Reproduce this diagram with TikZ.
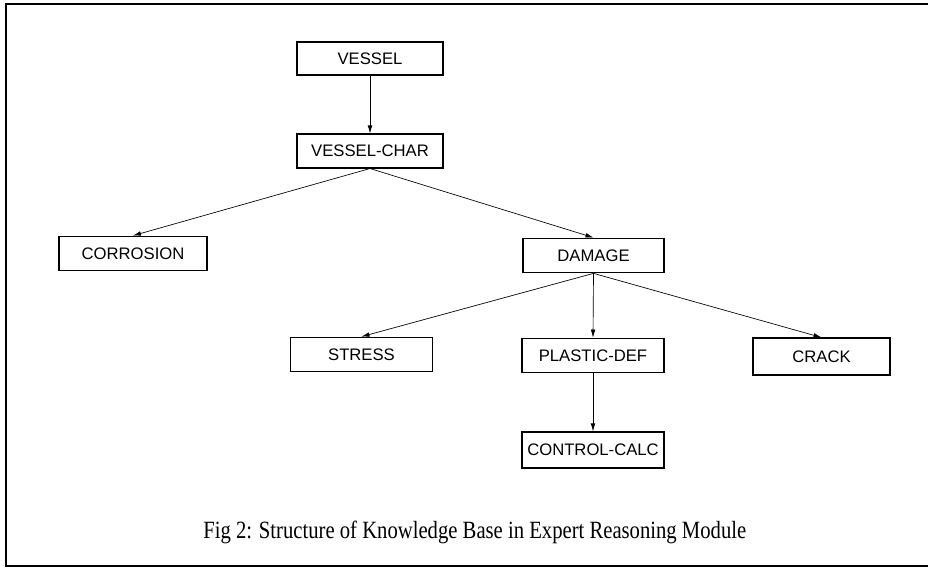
\documentclass[tikz,border=0pt]{standalone}
\usepackage{fontspec}
\setmainfont{Liberation Serif}
\setsansfont{Liberation Sans}
\usetikzlibrary{arrows.meta}
\begin{document}
\begin{tikzpicture}[x=0.75pt,y=0.75pt,yscale=-1,xscale=1,
  kbox/.style={draw,line width=0.8pt,minimum width=107pt,minimum height=26pt,inner sep=0pt,font=\sffamily\fontsize{12.5}{15}\selectfont},
  link/.style={line width=0.5pt,-{Latex[length=6pt,width=3.5pt]}}]
\useasboundingbox (0,0) rectangle (928,570);

%Shape: Frame
\draw [line width=1.2pt] (928,4) -- (6,4) -- (6,566) -- (928,566) ;

% Text Node
\node [kbox,minimum width=109.5pt,minimum height=24.75pt] (vessel) at (370,58.5) {VESSEL};
% Text Node
\node [kbox,minimum width=109.5pt,minimum height=25.5pt] (vesselchar) at (370,151) {VESSEL-CHAR};
% Text Node
\node [kbox,minimum width=111pt] (corrosion) at (133,253.5) {CORROSION};
% Text Node
\node [kbox,minimum width=105.75pt] (damage) at (593.5,255.5) {DAMAGE};
% Text Node
\node [kbox] (stress) at (361.5,354.5) {STRESS};
% Text Node
\node [kbox,minimum width=106.5pt] (plasticdef) at (593,355.5) {PLASTIC-DEF};
% Text Node
\node [kbox,minimum width=106.5pt,minimum height=27pt] (controlcalc) at (593,450) {CONTROL-CALC};
% Text Node
\node [kbox,minimum width=102.75pt,minimum height=27.75pt] (crack) at (821.5,356.5) {CRACK};

%Straight Lines
\draw [link] (vessel.south) -- (vesselchar.north) ;
\draw [link] (vesselchar.south) -- (corrosion.north) ;
\draw [link] (vesselchar.south) -- (damage.north) ;
\draw [link] (damage.south) -- (stress.north) ;
\draw [link] (damage.south) -- (plasticdef.north) ;
\draw [link] (damage.south) -- (crack.north) ;
\draw [link] (plasticdef.south) -- (controlcalc.north) ;

% Text Node
\node [anchor=base west,inner sep=0pt,font=\fontsize{15.5}{18}\selectfont] (caption) at (203,538) {\scalebox{1}[1.2]{Fig 2: Structure of Knowledge Base in Expert Reasoning Module}};

\end{tikzpicture}
\end{document}
